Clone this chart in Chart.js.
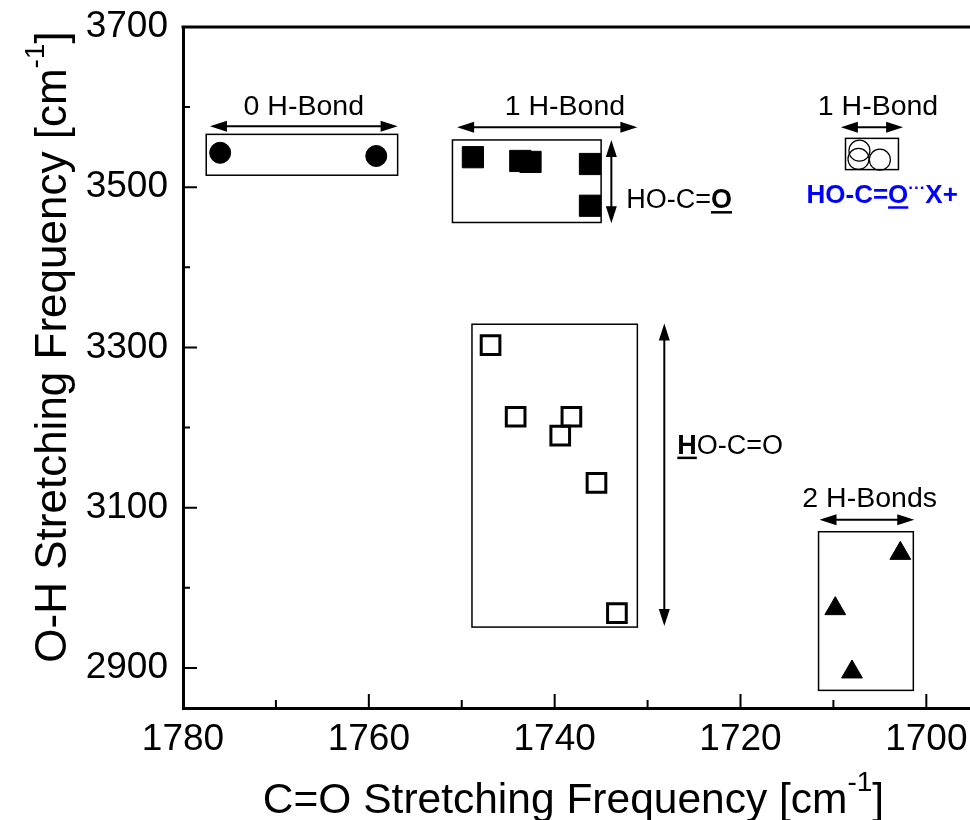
<!DOCTYPE html>
<html><head><meta charset="utf-8">
<script src="https://cdn.jsdelivr.net/npm/chart.js@4/dist/chart.umd.min.js"></script>
<style>html,body{margin:0;padding:0;background:#fff;overflow:hidden}canvas{display:block}</style>
</head><body><canvas id="c" width="970" height="820" style="width:970px;height:820px"></canvas>
<script>
const FONT = '"Liberation Sans", Arial, Helvetica, sans-serif';

// ---- data: C=O stretching (x) and O-H stretching (y), cm^-1 ----
const noHBondCO = [1776.0, 1759.2];
const noHBondOH = [3543, 3539];
const carbonylHBondCO = [1748.8, 1743.7, 1742.6, 1736.2, 1736.2];
const carbonylHBondOH = [3537.5, 3532.8, 3531.6, 3529, 3476.9];
const hydroxylHBondCO = [1746.9, 1744.2, 1738.2, 1739.4, 1735.5, 1733.3];
const hydroxylHBondOH = [3302.9, 3213.5, 3213.5, 3190, 3131, 2968.5];
const cationHBondCO = [1707.2, 1707.3, 1705.0];
const cationHBondOH = [3545.6, 3535.3, 3534.4];
const twoHBondCO = [1702.8, 1709.8, 1708.0];
const twoHBondOH = [3043, 2974, 2895];

// ---- ticks ----
const xMajorTicks = [1780, 1760, 1740, 1720, 1700];
const xMinorTicks = [1770, 1750, 1730, 1710];
const yMajorTicks = [2900, 3100, 3300, 3500, 3700];
const yMinorTicks = [3000, 3200, 3400, 3600];

// ---- group boxes (data units) ----
const boxLeft   = [1777.5, 1751.0, 1708.7, 1748.9, 1711.6];
const boxRight  = [1756.9, 1735.0, 1703.0, 1731.1, 1701.4];
const boxTop    = [3566, 3559, 3561, 3329, 3070];
const boxBottom = [3515, 3456, 3522, 2951, 2872];

// ---- double arrows (data units) ----
const hArrowY    = [3576, 3575, 3575, 3085];
const hArrowFrom = [1777.1, 1750.5, 1709.2, 1711.5];
const hArrowTo   = [1756.9, 1731.1, 1702.5, 1701.3];
const hLabels    = ['0 H-Bond', '1 H-Bond', '1 H-Bond', '2 H-Bonds'];
const hLabelX    = [1767.0, 1738.9, 1705.2, 1706.1];
const hLabelY    = [3590, 3590, 3590, 3101];
const vArrowX    = [1733.9, 1728.2];
const vArrowFrom = [3559, 3330];
const vArrowTo   = [3455, 2952.5];

const toPts = (xs, ys) => xs.map((v, i) => ({x: v, y: ys[i]}));

function drawRuns(ctx, x, y, runs, base) {
  let cx = x;
  for (const r of runs) {
    const size = r.size || base.size;
    ctx.font = (r.bold ? 'bold ' : '') + size + 'px ' + FONT;
    ctx.fillStyle = base.color;
    ctx.textAlign = 'left';
    ctx.textBaseline = 'alphabetic';
    const w = ctx.measureText(r.t).width;
    ctx.fillText(r.t, cx, y - (r.rise || 0));
    if (r.underline) {
      ctx.fillRect(cx, y + 3, w, 2.5);
    }
    cx += w;
  }
}

function drawArrowHead(ctx, tx, ty, dx, dy, len, hw) {
  const bx = tx - dx * len, by = ty - dy * len;
  ctx.beginPath();
  ctx.moveTo(tx, ty);
  ctx.lineTo(bx - dy * hw, by + dx * hw);
  ctx.lineTo(bx + dy * hw, by - dx * hw);
  ctx.closePath();
  ctx.fill();
}

function drawSupTitle(ctx, cx, by, main, sup, close, size, supSize, rise) {
  ctx.textAlign = 'left'; ctx.textBaseline = 'alphabetic'; ctx.fillStyle = '#000';
  ctx.font = size + 'px ' + FONT;
  const w1 = ctx.measureText(main).width;
  const w3 = ctx.measureText(close).width;
  ctx.font = supSize + 'px ' + FONT;
  const w2 = ctx.measureText(sup).width;
  const total = w1 + w2 + w3;
  let x = cx - total / 2;
  ctx.font = size + 'px ' + FONT;
  ctx.fillText(main, x, by); x += w1;
  ctx.font = supSize + 'px ' + FONT;
  ctx.fillText(sup, x, by - rise); x += w2;
  ctx.font = size + 'px ' + FONT;
  ctx.fillText(close, x, by);
}

const decor = {
  id: 'decor',
  beforeDatasetsDraw(chart) {
    const {ctx, scales: {x, y}} = chart;
    ctx.save();
    ctx.strokeStyle = '#000';
    ctx.lineWidth = 1.5;
    for (let i = 0; i < boxLeft.length; i++) {
      const l = x.getPixelForValue(boxLeft[i]), r = x.getPixelForValue(boxRight[i]);
      const t = y.getPixelForValue(boxTop[i]), b = y.getPixelForValue(boxBottom[i]);
      ctx.strokeRect(l, t, r - l, b - t);
    }
    ctx.restore();
  },
  afterDraw(chart) {
    const {ctx, chartArea: ca, scales: {x, y}} = chart;
    ctx.save();
    ctx.fillStyle = '#000';
    ctx.strokeStyle = '#000';
    ctx.lineWidth = 3;
    ctx.beginPath(); ctx.moveTo(ca.left - 1.5, ca.top); ctx.lineTo(ca.right, ca.top); ctx.stroke();
    ctx.lineWidth = 2;
    ctx.beginPath();
    for (const v of xMajorTicks) { const p = x.getPixelForValue(v); ctx.moveTo(p, ca.bottom); ctx.lineTo(p, ca.bottom - 14); }
    for (const v of xMinorTicks) { const p = x.getPixelForValue(v); ctx.moveTo(p, ca.bottom); ctx.lineTo(p, ca.bottom - 8); }
    for (const v of yMajorTicks) { const p = y.getPixelForValue(v); ctx.moveTo(ca.left, p); ctx.lineTo(ca.left + 14, p); }
    for (const v of yMinorTicks) { const p = y.getPixelForValue(v); ctx.moveTo(ca.left, p); ctx.lineTo(ca.left + 7, p); }
    ctx.stroke();
    ctx.lineWidth = 2;
    for (let i = 0; i < hArrowY.length; i++) {
      const py = y.getPixelForValue(hArrowY[i]);
      const a = x.getPixelForValue(hArrowFrom[i]), b = x.getPixelForValue(hArrowTo[i]);
      ctx.beginPath(); ctx.moveTo(a + 10, py); ctx.lineTo(b - 10, py); ctx.stroke();
      drawArrowHead(ctx, a, py, -1, 0, 17, 5.5);
      drawArrowHead(ctx, b, py, 1, 0, 17, 5.5);
      ctx.font = '28.5px ' + FONT; ctx.textAlign = 'center'; ctx.textBaseline = 'alphabetic';
      ctx.fillText(hLabels[i], x.getPixelForValue(hLabelX[i]), y.getPixelForValue(hLabelY[i]));
    }
    for (let i = 0; i < vArrowX.length; i++) {
      const px = x.getPixelForValue(vArrowX[i]);
      const a = y.getPixelForValue(vArrowFrom[i]), b = y.getPixelForValue(vArrowTo[i]);
      ctx.beginPath(); ctx.moveTo(px, a + 10); ctx.lineTo(px, b - 10); ctx.stroke();
      drawArrowHead(ctx, px, a, 0, -1, 17, 5.5);
      drawArrowHead(ctx, px, b, 0, 1, 17, 5.5);
    }
    drawRuns(ctx, x.getPixelForValue(1732.3), y.getPixelForValue(3474),
      [{t: 'HO-C='}, {t: 'O', bold: true, underline: true}], {size: 27, color: '#000'});
    drawRuns(ctx, x.getPixelForValue(1726.8), y.getPixelForValue(3167.5),
      [{t: 'H', bold: true, underline: true}, {t: 'O-C=O'}], {size: 27, color: '#000'});
    drawRuns(ctx, x.getPixelForValue(1712.9), y.getPixelForValue(3480),
      [{t: 'HO-C=', bold: true}, {t: 'O', bold: true, underline: true},
       {t: '···', bold: true, size: 17, rise: 10}, {t: 'X+', bold: true}], {size: 26, color: '#0000FF'});
    drawSupTitle(ctx, (ca.left + ca.right) / 2 - 3, chart.height - 7,
      'C=O Stretching Frequency [cm', '-1', ']', 42.5, 28, 22);
    ctx.save();
    ctx.translate(66, 347);
    ctx.rotate(-Math.PI / 2);
    drawSupTitle(ctx, 0, 0, 'O-H Stretching Frequency [cm', '-1', ']', 44, 28, 22);
    ctx.restore();
    ctx.restore();
  }
};

new Chart(document.getElementById('c'), {
  type: 'scatter',
  data: {
    datasets: [
      {label: '0 H-Bond', data: toPts(noHBondCO, noHBondOH), pointStyle: 'circle', pointRadius: 10.5,
       backgroundColor: '#000', borderColor: '#000', borderWidth: 1},
      {label: '1 H-Bond (C=O)', data: toPts(carbonylHBondCO, carbonylHBondOH), pointStyle: 'rect', pointRadius: 15,
       backgroundColor: '#000', borderColor: '#000', borderWidth: 1},
      {label: '1 H-Bond (O-H)', data: toPts(hydroxylHBondCO, hydroxylHBondOH), pointStyle: 'rect', pointRadius: 13.2,
       backgroundColor: 'rgba(0,0,0,0)', borderColor: '#000', borderWidth: 3},
      {label: '1 H-Bond (cation)', data: toPts(cationHBondCO, cationHBondOH), pointStyle: 'circle', pointRadius: 10.5,
       backgroundColor: 'rgba(0,0,0,0)', borderColor: '#000', borderWidth: 1.2},
      {label: '2 H-Bonds', data: toPts(twoHBondCO, twoHBondOH), pointStyle: 'triangle', pointRadius: 12,
       backgroundColor: '#000', borderColor: '#000', borderWidth: 1}
    ]
  },
  options: {
    responsive: false, maintainAspectRatio: false, animation: false, devicePixelRatio: 1,
    layout: {autoPadding: false, padding: {left: 86, top: 27, right: 0, bottom: 54}},
    plugins: {legend: {display: false}, tooltip: {enabled: false}},
    scales: {
      x: {
        type: 'linear', reverse: true, min: 1695.3, max: 1780,
        afterBuildTicks: s => { s.ticks = xMajorTicks.map(v => ({value: v})); },
        afterFit: s => { s.paddingLeft = 0; s.paddingRight = 0; s.height = 58; },
        ticks: {font: {size: 37, family: FONT}, color: '#000', padding: 10, maxRotation: 0, autoSkip: false,
                callback: v => String(v)},
        grid: {display: false, drawTicks: false},
        border: {display: true, color: '#000', width: 3}
      },
      y: {
        type: 'linear', min: 2850, max: 3700,
        afterBuildTicks: s => { s.ticks = yMajorTicks.map(v => ({value: v})); },
        afterFit: s => { s.paddingTop = 0; s.paddingBottom = 0; s.width = 97; },
        ticks: {font: {size: 37, family: FONT}, color: '#000', padding: 15, autoSkip: false,
                callback: v => String(v)},
        grid: {display: false, drawTicks: false},
        border: {display: true, color: '#000', width: 3}
      }
    }
  },
  plugins: [decor]
});
</script>
</body></html>
